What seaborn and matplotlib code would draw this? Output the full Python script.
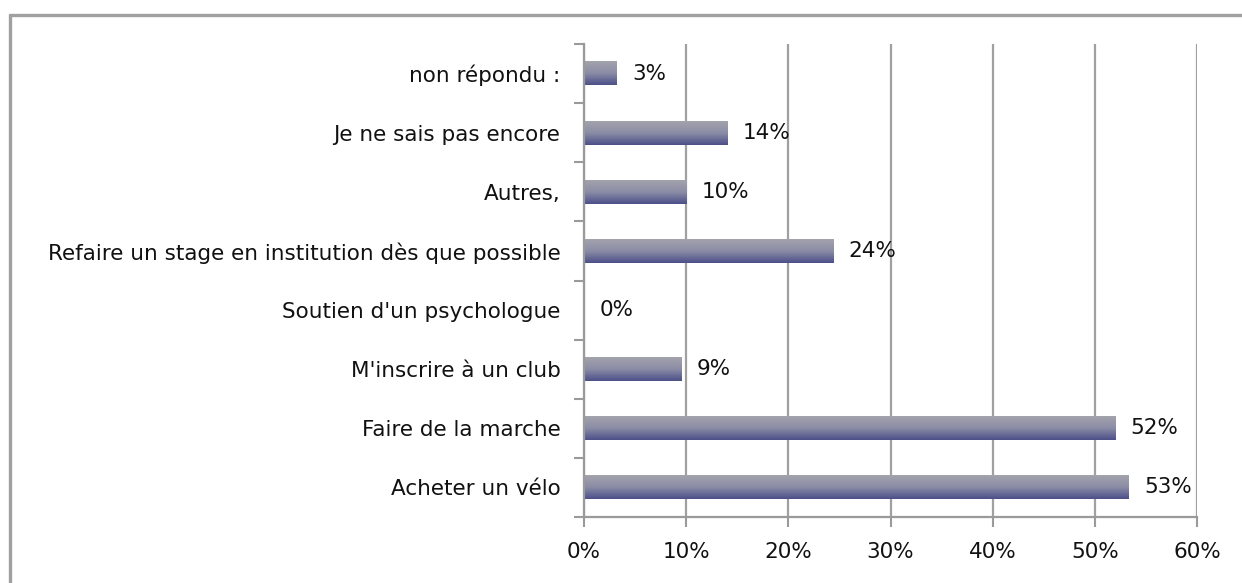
import numpy as np
import pandas as pd
import matplotlib
matplotlib.use("Agg")
import matplotlib.pyplot as plt
import seaborn as sns
from matplotlib.colors import LinearSegmentedColormap
from matplotlib.lines import Line2D

# data (top to bottom)
categories = [
    "non répondu :",
    "Je ne sais pas encore",
    "Autres,",
    "Refaire un stage en institution dès que possible",
    "Soutien d'un psychologue",
    "M'inscrire à un club",
    "Faire de la marche",
    "Acheter un vélo",
]
values = [3.2, 14.0, 10.0, 24.4, 0.0, 9.5, 52.0, 53.3]
labels = ["3%", "14%", "10%", "24%", "0%", "9%", "52%", "53%"]
x_ticks = [0, 10, 20, 30, 40, 50, 60]

df = pd.DataFrame({"cat": categories, "val": values})

sns.set_style("white")
plt.rcParams['font.family'] = ['DejaVu Sans']

fig = plt.figure(figsize=(12.42, 5.83), dpi=100)
ax = fig.add_axes([584 / 1242, 66 / 583, 613 / 1242, 473 / 583])

sns.barplot(data=df, x="val", y="cat", orient="h", width=0.4,
            color="#6a6e9a", ax=ax, zorder=3)

# gradient fill on each bar: light grey on top, dark navy at bottom
grad_cmap = LinearSegmentedColormap.from_list("bar", ["#a3a3ad", "#8b8ca6", "#4c5088"])
grad = np.linspace(0, 1, 64).reshape(-1, 1)
for p in ax.patches:
    x0, y0 = p.get_x(), p.get_y()
    w, h = p.get_width(), p.get_height()
    if w <= 0:
        continue
    p.set_alpha(0)
    # y axis is inverted: y0 is the top edge
    ax.imshow(grad, cmap=grad_cmap, aspect="auto", extent=(x0, x0 + w, y0 + h, y0),
              zorder=3, interpolation="bilinear")

ax.set_xlim(0, 60)
ax.set_ylim(len(categories) - 0.5, -0.5)
ax.set_xticks(x_ticks)
ax.set_xticklabels([f"{t}%" for t in x_ticks], fontsize=15.5, color="#111111")
ax.set_yticks(range(len(categories)))
ax.set_yticklabels(categories, fontsize=15.5, color="#111111")
ax.set_yticks(np.arange(-0.5, len(categories)), minor=True)

ax.tick_params(axis="y", which="major", left=True, length=0, pad=17)
ax.tick_params(axis="y", which="minor", left=True, length=7, width=1.5,
               color="#9a9a9a", direction="out")
ax.tick_params(axis="x", which="major", bottom=True, length=7, width=1.5,
               color="#9a9a9a", direction="out", pad=11)
ax.set_xlabel("")
ax.set_ylabel("")

ax.grid(axis="x", color="#a0a0a0", linewidth=1.6, zorder=0)
ax.set_axisbelow(True)
for s in ["top", "right"]:
    ax.spines[s].set_visible(False)
for s in ["left", "bottom"]:
    ax.spines[s].set_color("#9a9a9a")
    ax.spines[s].set_linewidth(1.6)
    ax.spines[s].set_zorder(4)

for i, (v, lab) in enumerate(zip(values, labels)):
    ax.text(v + 1.5, i, lab, va="center", ha="left", fontsize=15.5,
            color="#111111", zorder=5)

# outer chart border (only top and left visible)
fig.add_artist(Line2D([10 / 1242, 10 / 1242], [0, 568 / 583], transform=fig.transFigure,
                      color="#a0a0a0", linewidth=2.4))
fig.add_artist(Line2D([10 / 1242, 1], [568 / 583, 568 / 583], transform=fig.transFigure,
                      color="#a0a0a0", linewidth=2.4))

fig.savefig("out.png", dpi=100, facecolor="white")
